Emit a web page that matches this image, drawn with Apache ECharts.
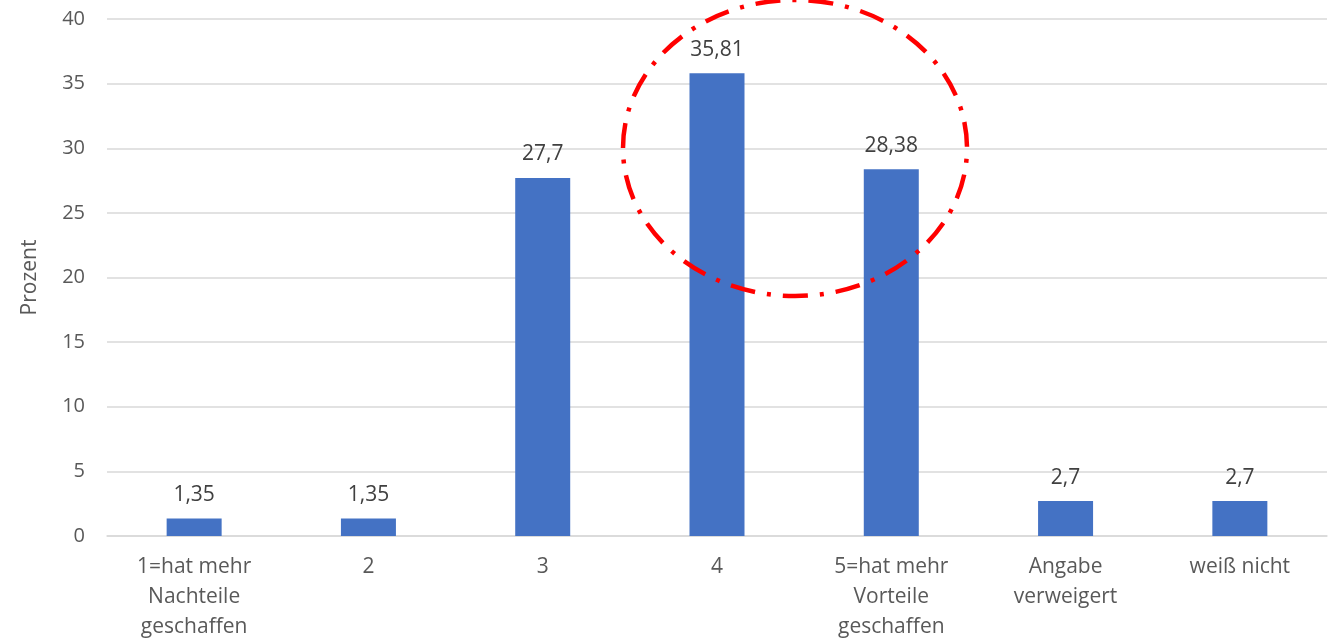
<!DOCTYPE html>
<html>
<head>
<meta charset="utf-8">
<script src="https://cdn.jsdelivr.net/npm/echarts@6/dist/echarts.min.js"></script>
<style>
  html, body { margin: 0; padding: 0; background: #fff; }
  #chart { width: 1334px; height: 642px; }
</style>
</head>
<body>
<div id="chart"></div>
<script>
// Antwortkategorien und Anteile in Prozent
const categories = [
  '1=hat mehr\nNachteile\ngeschaffen',
  '2',
  '3',
  '4',
  '5=hat mehr\nVorteile\ngeschaffen',
  'Angabe\nverweigert',
  'weiß nicht'
];
const values = [1.35, 1.35, 27.7, 35.81, 28.38, 2.7, 2.7];
const yTicks = [0, 5, 10, 15, 20, 25, 30, 35, 40];

const FONT = 'Open Sans, Noto Sans, sans-serif';
const chart = echarts.init(document.getElementById('chart'), null, { renderer: 'canvas' });

chart.setOption({
  animation: false,
  backgroundColor: '#ffffff',
  grid: { left: 107, right: 7, top: 19, bottom: 100, containLabel: false },
  xAxis: {
    type: 'category',
    data: categories,
    axisLine: { show: true, lineStyle: { color: '#d9d9d9', width: 1.5 } },
    axisTick: { show: false },
    axisLabel: {
      color: '#595959',
      fontFamily: FONT,
      fontSize: 21,
      lineHeight: 30,
      margin: 16,
      interval: 0
    }
  },
  yAxis: {
    type: 'value',
    min: yTicks[0],
    max: yTicks[yTicks.length - 1],
    interval: 5,
    name: 'Prozent',
    nameLocation: 'middle',
    nameRotate: 90,
    nameGap: 66,
    nameTextStyle: { color: '#595959', fontFamily: FONT, fontSize: 21 },
    axisLine: { show: false },
    axisTick: { show: false },
    splitLine: { lineStyle: { color: '#d9d9d9', width: 1.5 } },
    axisLabel: {
      color: '#595959',
      fontFamily: FONT,
      fontSize: 20,
      margin: 22
    }
  },
  series: [{
    type: 'bar',
    data: values,
    barWidth: 55,
    itemStyle: { color: '#4472C4' },
    label: {
      show: true,
      position: 'top',
      distance: 13,
      color: '#404040',
      fontFamily: FONT,
      fontSize: 21,
      formatter: p => String(p.value).replace('.', ',')
    }
  }],
  graphic: [{
    type: 'ellipse',
    shape: { cx: 795, cy: 148, rx: 172, ry: 148 },
    style: {
      fill: 'none',
      stroke: '#ff0000',
      lineWidth: 4.5,
      lineDash: [25, 12, 4, 12]
    },
    z: 100
  }]
});
</script>
</body>
</html>
